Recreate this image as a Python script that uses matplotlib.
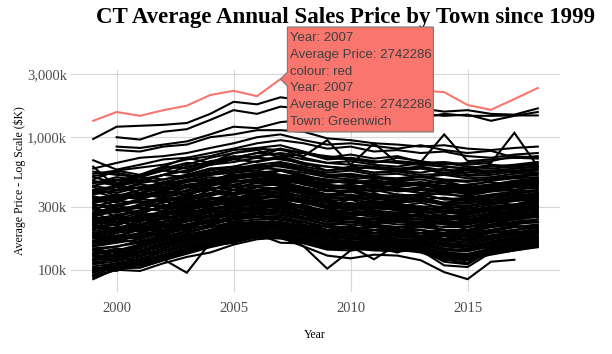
import matplotlib
matplotlib.use('Agg')
import matplotlib.pyplot as plt
import matplotlib.patches as mpatches
import numpy as np

# average sale price per town, in $K, years 1999..2018
years = list(range(1999, 2019))
nan = np.nan

greenwich = [1330, 1550, 1450, 1600, 1730, 2080, 2240, 2040, 2742, 2500,
             2300, 2350, 2200, 2100, 2250, 2190, 1750, 1610, 1940, 2350]

top_towns = [
  [970, 1200, 1220, 1240, 1280, 1500, 1850, 1770, 2000, 1900, 1650, 1700, 1750, 1600, 1650, 1560, 1600, 1500, 1480, 1650],
  [nan, 1000, 960, 1100, 1150, 1350, 1600, 1500, 1700, 1650, 1450, 1500, 1550, 1480, 1500, 1450, 1480, 1330, 1450, 1550],
  [nan, 850, 830, 880, 930, 1050, 1200, 1170, 1300, 1350, 1350, 1400, 1420, 1450, 1400, 1500, 1450, 1450, 1460, 1460],
  [nan, 800, 780, 850, 880, 1000, 1050, 1130, 1130, 1100, 980, 950, 900, 880, 850, 870, 820, 800, 830, 850],
  [670, 570, 620, 680, 700, 760, 820, 900, 950, 900, 820, 850, 780, 800, 760, 780, 720, 700, 740, 760],
  [580, 640, 700, 720, 760, 830, 900, 1000, 1050, 950, 880, 900, 860, 820, 870, 800, 760, 790, 700, 720],
  [530, 560, 590, 620, 680, 720, 800, 830, 870, 780, 700, 740, 690, 720, 650, 1050, 660, 680, 700, 690],
  [510, 540, 500, 560, 620, 700, 760, 820, 800, 760, 700, 680, 650, 660, 640, 650, 620, 640, 1080, 600],
  [480, 560, 520, 600, 580, 660, 700, 760, 820, 700, 640, 620, 900, 640, 620, 600, 580, 620, 600, 640],
  [450, 500, 470, 520, 560, 640, 690, 720, 760, 720, 950, 620, 600, 580, 600, 560, 570, 560, 580, 600],
  [600, 420, 480, 520, 600, 650, 720, 700, 820, 760, 680, 700, 660, 640, 620, 640, 600, 580, 600, 620],
  [430, 470, 520, 600, 700, 640, 760, 800, 700, 760, 720, 690, 640, 700, 660, 620, 640, 660, 720, 700],
  [460, 440, 500, 480, 520, 580, 600, 660, 720, 640, 560, 600, 580, 560, 540, 580, 520, 540, 560, 580],
  [400, 430, 460, 520, 560, 620, 680, 650, 700, 620, 600, 580, 540, 560, 600, 520, 540, 560, 540, 560],
]

mid_towns = [
  [400, 380, 420, 450, 470, 520, 560, 600, 610, 560, 500, 520, 490, 480, 500, 470, 460, 480, 500, 520],
  [385, 430, 410, 460, 500, 530, 580, 560, 620, 580, 520, 500, 510, 470, 480, 450, 430, 470, 490, 500],
  [370, 400, 440, 420, 480, 520, 540, 590, 570, 540, 500, 480, 500, 460, 450, 470, 420, 440, 460, 480],
  [355, 330, 380, 410, 430, 470, 510, 530, 560, 500, 470, 460, 440, 450, 430, 420, 400, 420, 450, 470],
  [340, 370, 360, 400, 440, 460, 500, 520, 510, 480, 450, 470, 430, 420, 440, 400, 410, 430, 420, 450],
  [325, 350, 380, 370, 420, 450, 480, 510, 500, 470, 430, 420, 430, 400, 410, 390, 380, 400, 420, 440],
  [310, 300, 340, 380, 390, 430, 460, 480, 490, 440, 420, 410, 390, 400, 380, 370, 360, 390, 400, 420],
  [300, 330, 320, 350, 380, 400, 440, 470, 460, 450, 400, 390, 400, 370, 360, 380, 350, 370, 390, 400],
  [290, 310, 340, 330, 370, 410, 420, 450, 460, 420, 390, 400, 370, 360, 370, 340, 350, 360, 380, 390],
  [280, 270, 300, 340, 350, 380, 420, 430, 440, 410, 370, 360, 370, 350, 340, 350, 330, 350, 360, 380],
  [270, 300, 290, 320, 360, 370, 400, 420, 410, 390, 360, 370, 340, 340, 350, 320, 320, 340, 350, 370],
  [260, 280, 310, 300, 330, 370, 380, 400, 420, 380, 350, 340, 350, 320, 330, 310, 300, 330, 340, 350],
  [250, 240, 270, 300, 320, 340, 370, 390, 380, 360, 330, 340, 320, 310, 300, 300, 290, 310, 330, 340],
  [240, 260, 280, 290, 310, 340, 350, 370, 380, 340, 320, 310, 320, 300, 290, 280, 280, 300, 310, 330],
  [232, 250, 240, 280, 300, 320, 350, 360, 350, 340, 300, 310, 290, 290, 300, 270, 270, 290, 300, 310],
  [225, 230, 260, 270, 290, 310, 330, 350, 360, 320, 300, 290, 300, 280, 270, 270, 260, 280, 290, 300],
  [218, 240, 250, 260, 280, 310, 320, 330, 340, 320, 290, 300, 280, 270, 280, 250, 250, 270, 280, 300],
  [210, 200, 230, 260, 270, 290, 310, 330, 320, 300, 280, 270, 270, 260, 250, 250, 240, 260, 270, 290],
  [203, 220, 240, 240, 270, 290, 300, 320, 330, 300, 270, 280, 260, 250, 260, 240, 240, 250, 270, 280],
  [196, 210, 220, 250, 260, 280, 300, 310, 310, 290, 260, 260, 260, 240, 240, 230, 230, 250, 260, 270],
  [190, 200, 220, 230, 250, 270, 290, 300, 300, 280, 260, 250, 240, 240, 240, 220, 220, 240, 250, 260],
  [184, 195, 210, 230, 240, 270, 280, 290, 300, 270, 250, 250, 240, 230, 230, 220, 210, 230, 240, 250],
  [178, 190, 200, 220, 240, 250, 270, 290, 280, 270, 240, 240, 230, 230, 220, 210, 210, 220, 230, 240],
  [172, 180, 200, 210, 230, 250, 270, 280, 280, 260, 240, 230, 230, 220, 220, 200, 200, 210, 220, 240],
  [166, 175, 190, 210, 220, 240, 260, 270, 270, 250, 230, 230, 220, 210, 210, 200, 190, 210, 220, 230],
  [160, 170, 185, 200, 220, 230, 250, 260, 260, 240, 220, 220, 210, 210, 200, 190, 190, 200, 210, 220],
  [155, 165, 180, 190, 210, 230, 240, 250, 250, 230, 210, 210, 200, 200, 200, 180, 180, 190, 200, 210],
  [150, 160, 170, 190, 200, 220, 240, 250, 240, 230, 210, 200, 200, 190, 190, 180, 170, 190, 200, 210],
  [145, 150, 165, 180, 195, 210, 230, 240, 240, 220, 200, 200, 190, 190, 180, 170, 170, 180, 190, 200],
  [140, 150, 160, 175, 190, 210, 220, 230, 230, 215, 195, 190, 190, 180, 180, 165, 160, 175, 185, 195],
  [135, 140, 155, 170, 185, 200, 215, 225, 225, 210, 190, 185, 180, 175, 175, 160, 155, 170, 180, 190],
  [130, 138, 150, 165, 180, 195, 210, 220, 220, 205, 185, 180, 175, 170, 170, 155, 150, 165, 175, 185],
  [126, 132, 145, 160, 175, 190, 205, 215, 210, 200, 180, 175, 170, 165, 165, 150, 145, 160, 170, 180],
  [122, 128, 140, 155, 170, 185, 200, 210, 205, 195, 175, 170, 165, 165, 160, 145, 140, 155, 165, 175],
  [118, 124, 135, 150, 165, 180, 195, 205, 200, 190, 170, 165, 160, 160, 155, 140, 138, 150, 160, 170],
  [114, 120, 130, 145, 160, 175, 190, 200, 195, 185, 165, 160, 158, 155, 150, 135, 132, 145, 155, 165],
  [110, 116, 126, 140, 155, 170, 185, 195, 190, 180, 160, 158, 155, 150, 145, 130, 128, 140, 150, 160],
  [106, 112, 122, 135, 150, 165, 180, 190, 185, 175, 158, 155, 150, 148, 140, 125, 125, 138, 145, 155],
  [102, 108, 118, 130, 145, 160, 175, 185, 180, 170, 155, 150, 148, 145, 138, 120, 122, 135, 142, 150],
  [98, 104, 112, 125, 140, 155, 170, 180, 178, 165, 150, 148, 145, 142, 135, 118, 120, 130, 140, 148],
  [300, 250, 280, 330, 300, 380, 360, 420, 400, 380, 420, 350, 380, 330, 360, 310, 350, 330, 380, 360],
  [200, 260, 230, 280, 320, 300, 360, 340, 390, 330, 300, 340, 290, 320, 280, 300, 260, 290, 310, 340],
  [350, 300, 330, 300, 360, 420, 400, 460, 430, 400, 360, 390, 350, 370, 330, 320, 340, 310, 350, 380],
  [180, 170, 220, 200, 260, 250, 300, 280, 320, 300, 260, 250, 280, 240, 260, 220, 240, 230, 260, 250],
  [250, 290, 260, 310, 290, 350, 330, 380, 360, 320, 340, 300, 320, 290, 280, 290, 270, 300, 290, 320],
  [150, 180, 170, 210, 200, 240, 270, 250, 290, 260, 230, 250, 220, 240, 210, 230, 200, 220, 240, 230],
  [420, 360, 400, 440, 420, 480, 520, 500, 560, 520, 460, 480, 440, 470, 430, 450, 410, 430, 440, 470],
  [380, 420, 380, 440, 480, 460, 540, 560, 520, 500, 470, 450, 480, 440, 460, 420, 440, 460, 430, 460],
  [120, 140, 130, 160, 170, 200, 190, 230, 220, 200, 190, 200, 180, 190, 175, 180, 165, 180, 195, 190],
  [220, 200, 240, 230, 280, 270, 320, 310, 340, 290, 280, 300, 270, 260, 280, 250, 260, 280, 270, 300],
  [330, 360, 340, 390, 370, 440, 470, 450, 490, 440, 400, 430, 390, 410, 380, 400, 370, 400, 420, 410],
  [270, 230, 260, 250, 300, 330, 310, 360, 350, 330, 300, 290, 310, 280, 300, 270, 290, 280, 310, 330],
  [160, 190, 210, 190, 240, 230, 280, 290, 270, 260, 240, 250, 230, 240, 220, 230, 210, 230, 240, 260],
  [450, 480, 460, 520, 500, 560, 600, 580, 640, 580, 540, 560, 520, 530, 500, 520, 490, 500, 530, 540],
  [360, 320, 380, 360, 420, 400, 460, 490, 470, 450, 420, 440, 410, 400, 420, 380, 400, 390, 420, 440],
  [140, 125, 150, 175, 160, 200, 230, 210, 250, 230, 200, 215, 190, 205, 180, 185, 170, 195, 185, 210],
  [175, 160, 190, 180, 220, 240, 230, 270, 260, 240, 220, 200, 215, 200, 190, 200, 175, 200, 215, 205],
  [235, 215, 250, 270, 260, 300, 330, 320, 300, 310, 270, 290, 260, 270, 250, 260, 240, 255, 275, 290],
  [265, 290, 270, 300, 340, 320, 380, 370, 400, 350, 330, 310, 330, 300, 320, 290, 300, 320, 310, 340],
  [315, 280, 310, 350, 340, 400, 380, 430, 450, 410, 370, 390, 360, 350, 370, 340, 330, 360, 370, 360],
  [112, 122, 118, 140, 150, 172, 180, 198, 205, 185, 170, 160, 165, 158, 160, 140, 142, 155, 168, 175],
  [128, 118, 140, 150, 170, 178, 200, 220, 212, 195, 180, 175, 182, 168, 165, 160, 150, 162, 172, 190],
  [188, 205, 195, 215, 235, 260, 275, 300, 310, 275, 255, 265, 250, 245, 255, 235, 225, 245, 255, 265],
  [245, 225, 255, 265, 295, 310, 345, 335, 370, 330, 310, 320, 300, 305, 285, 295, 270, 285, 305, 320],
  [205, 230, 215, 245, 255, 285, 305, 320, 310, 295, 275, 265, 275, 255, 265, 245, 250, 265, 280, 275],
  [390, 350, 400, 420, 460, 500, 480, 540, 560, 510, 480, 460, 470, 450, 440, 430, 420, 440, 470, 490],
  [430, 400, 450, 480, 520, 540, 580, 620, 600, 560, 520, 530, 500, 490, 510, 480, 470, 490, 510, 530],
  [500, 450, 520, 560, 540, 620, 650, 700, 680, 640, 600, 580, 590, 560, 580, 540, 560, 540, 580, 600],
  [550, 520, 500, 580, 640, 620, 700, 760, 740, 680, 640, 660, 620, 600, 640, 600, 580, 600, 620, 650],
  [320, 340, 370, 350, 400, 450, 430, 480, 500, 460, 430, 410, 420, 390, 400, 380, 390, 410, 400, 430],
  [215, 190, 220, 250, 240, 280, 300, 290, 330, 300, 270, 260, 270, 250, 240, 250, 235, 255, 265, 280],
  [165, 182, 175, 195, 215, 225, 255, 265, 260, 245, 220, 228, 215, 210, 220, 198, 195, 215, 225, 228],
  [132, 145, 138, 158, 175, 182, 210, 222, 218, 210, 185, 195, 178, 182, 172, 170, 160, 172, 188, 192],
  [104, 98, 115, 128, 138, 152, 160, 178, 182, 168, 160, 152, 155, 148, 150, 132, 130, 142, 152, 160],
  [290, 270, 310, 300, 345, 360, 400, 390, 420, 390, 360, 345, 355, 330, 345, 320, 315, 335, 345, 365],
  [345, 365, 350, 395, 420, 440, 490, 510, 480, 470, 440, 420, 440, 410, 400, 410, 390, 410, 430, 445],
  [255, 275, 295, 275, 320, 350, 340, 390, 410, 370, 340, 355, 330, 320, 335, 310, 305, 320, 335, 355],
  [185, 175, 205, 225, 215, 255, 280, 270, 295, 275, 250, 240, 245, 235, 230, 225, 220, 235, 245, 255],
  [152, 168, 162, 185, 205, 215, 245, 250, 238, 228, 212, 205, 210, 195, 200, 185, 185, 195, 210, 215],
  [470, 430, 480, 450, 520, 580, 560, 620, 650, 600, 560, 580, 540, 550, 520, 530, 510, 520, 550, 570],
  [375, 395, 420, 400, 460, 480, 520, 540, 520, 490, 470, 450, 460, 430, 440, 420, 410, 430, 450, 470],
  [228, 245, 235, 265, 280, 305, 320, 345, 355, 325, 295, 305, 290, 285, 275, 270, 265, 280, 290, 305],
  [142, 135, 155, 168, 182, 196, 222, 232, 228, 212, 198, 192, 188, 185, 188, 172, 168, 182, 192, 200],
  [118, 130, 128, 145, 160, 178, 188, 206, 212, 192, 178, 172, 172, 166, 162, 152, 150, 160, 170, 178],
  [96, 106, 104, 118, 132, 148, 162, 175, 172, 160, 148, 145, 140, 138, 140, 125, 118, 132, 140, 150],
]

low_towns = [
  [88, 100, 98, 112, 125, 135, 155, 170, 175, 150, 128, 122, 130, 128, 118, 96, 85, 115, 119, nan],
  [92, 105, 108, 120, 95, 160, 170, 185, 190, 170, 150, 150, 148, 150, 145, 120, 112, 140, 150, 160],
  [85, 102, 104, 118, 135, 150, 165, 180, 178, 150, 102, 140, 150, 155, 150, 130, 120, 145, 155, 165],
  [95, 110, 112, 125, 140, 155, 175, 190, 185, 165, 150, 150, 120, 155, 150, 125, 118, 150, 160, 170],
  [90, 100, 110, 122, 138, 150, 168, 182, 175, 160, 145, 145, 150, 135, 155, 140, 112, 148, 158, 170],
  [97, 108, 115, 128, 142, 158, 172, 186, 160, 158, 142, 140, 145, 145, 140, 108, 105, 135, 145, 155],
  [100, 112, 118, 130, 145, 162, 178, 190, 180, 165, 148, 146, 142, 140, 142, 115, 110, 140, 150, 160],
]

W, H = 612, 354
SERIF = ['Liberation Serif', 'DejaVu Serif']
SANS = ['Liberation Sans', 'DejaVu Sans']
RED = '#F8766D'


def DrawTooltip(fig, ax):
  # hover label pointing at Greenwich 2007
  tip = ax.transData.transform((2007, greenwich[8]))
  tx, ty = tip[0], tip[1]
  x0 = tx + 7
  x1 = x0 + 146
  ytop = H - 27
  ybot = H - 132
  pts = [(tx, ty), (x0, ty + 7), (x0, ytop), (x1, ytop), (x1, ybot), (x0, ybot), (x0, ty - 7)]
  pts = [(px / W, py / H) for px, py in pts]
  poly = mpatches.Polygon(pts, closed=True, transform=fig.transFigure,
                          facecolor=RED, edgecolor='#7a7a7a', linewidth=0.8, zorder=10)
  fig.patches.append(poly)
  lines = ['Year: 2007', 'Average Price: 2742286', 'colour: red',
           'Year: 2007', 'Average Price: 2742286', 'Town: Greenwich']
  for i, s in enumerate(lines):
    fig.text((x0 + 3) / W, 1 - (38.3 + i * 16.7) / H, s, family=SANS, fontsize=9.5,
             color='#404040', va='center', ha='left', zorder=11)


def PlotTowns():
  fig = plt.figure(figsize=(W / 100, H / 100), dpi=100)
  ax = fig.add_axes([71 / W, 1 - 292 / H, (560 - 71) / W, (292 - 70) / H])

  for vals in mid_towns + low_towns + top_towns:
    ax.plot(years, vals, color='black', lw=1.5, solid_joinstyle='miter')
  ax.plot(years, greenwich, color=RED, lw=1.5)

  ax.set_yscale('log')
  ax.set_xlim(1998.05, 2018.95)
  ax.set_ylim(68, 3214)
  ax.set_yticks([100, 300, 1000, 3000])
  ax.set_yticklabels(['100k', '300k', '1,000k', '3,000k'])
  ax.minorticks_off()
  ax.set_xticks([2000, 2005, 2010, 2015])
  ax.set_xticklabels(['2000', '2005', '2010', '2015'])
  for lbl in ax.get_xticklabels() + ax.get_yticklabels():
    lbl.set_family(SERIF)
    lbl.set_fontsize(10.5)
    lbl.set_color('#4d4d4d')
  ax.tick_params(length=0, pad=3)
  ax.tick_params(axis='x', pad=7)
  ax.grid(True, color='#d6d6d6', lw=0.8)
  ax.set_axisbelow(True)
  for sp in ax.spines.values():
    sp.set_visible(False)

  fig.text(20 / W, 1 - 181 / H, 'Average Price - Log Scale (\\$K)', rotation=90,
           family=SERIF, fontsize=8.5, ha='center', va='center')
  fig.text(315 / W, 1 - 335 / H, 'Year', family=SERIF, fontsize=8.5, ha='center', va='center')
  fig.text(96 / W, 1 - 23 / H, 'CT Average Annual Sales Price by Town since 1999',
           family=SERIF, fontsize=16.5, weight='bold', ha='left', va='baseline')

  DrawTooltip(fig, ax)
  fig.savefig('out.png', dpi=100)


def run():
  PlotTowns()

if __name__ == '__main__':
  run()
